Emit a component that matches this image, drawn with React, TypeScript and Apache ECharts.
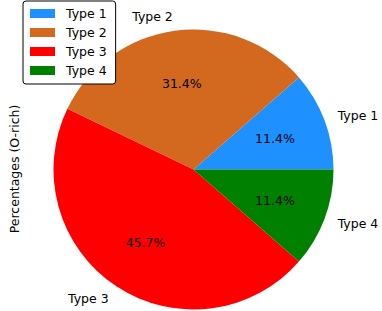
import React, { useEffect, useRef } from "react";
import * as echarts from "echarts";

const categories = ["Type 1", "Type 2", "Type 3", "Type 4"];
const values = [4, 11, 16, 4];
const colors = ["#1E90FF", "#D2691E", "#FF0000", "#008000"];
const yLabel = "Percentages (O-rich)";

const FONT = "DejaVu Sans";
const FS = 12.5;

export default function App() {
  const ref = useRef<HTMLDivElement>(null);
  useEffect(() => {
    if (!ref.current) return;
    const chart = echarts.init(ref.current, null, { renderer: "svg" });
    const total = values.reduce((a, b) => a + b, 0);
    const data = categories.map((name, i) => ({
      name,
      value: values[i],
      itemStyle: { color: colors[i] },
    }));
    const center = [193.5, 169.5];
    const R = 140;
    chart.setOption({
      animation: false,
      textStyle: { fontFamily: FONT },
      legend: {
        orient: "vertical",
        left: 23,
        top: 1,
        data: categories,
        itemWidth: 25,
        itemHeight: 9,
        itemGap: 6,
        padding: [6, 9, 7, 7],
        borderColor: "#000",
        borderWidth: 1,
        borderRadius: 3,
        backgroundColor: "#fff",
        icon: "rect",
        textStyle: { fontFamily: FONT, fontSize: FS, color: "#000", padding: [0, 0, 0, 6] },
      },
      graphic: [
        {
          type: "text",
          x: 14,
          y: 169,
          rotation: Math.PI / 2,
          style: {
            text: yLabel,
            fontFamily: FONT,
            fontSize: FS,
            fill: "#000",
            align: "center",
            verticalAlign: "middle",
          },
        },
      ],
      series: [
        {
          type: "pie",
          center,
          radius: [0, R],
          startAngle: 0,
          clockwise: false,
          silent: true,
          avoidLabelOverlap: false,
          data,
          label: {
            show: true,
            position: "outside",
            formatter: "{b}",
            fontFamily: FONT,
            fontSize: FS,
            color: "#000",
            distanceToLabelLine: 0,
          },
          labelLine: { show: false, length: 14, length2: 0 },
          emphasis: { disabled: true },
        },
        {
          type: "pie",
          center,
          radius: [R * 0.2, R],
          startAngle: 0,
          clockwise: false,
          silent: true,
          avoidLabelOverlap: false,
          data: categories.map((name, i) => ({
            name,
            value: values[i],
            itemStyle: { color: "rgba(0,0,0,0)" },
          })),
          label: {
            show: true,
            position: "inside",
            formatter: (p: any) => ((p.value / total) * 100).toFixed(1) + "%",
            fontFamily: FONT,
            fontSize: FS,
            color: "#000",
          },
          labelLine: { show: false },
          emphasis: { disabled: true },
        },
      ],
    });
    return () => chart.dispose();
  }, []);
  return (
    <div
      ref={ref}
      style={{ position: "absolute", left: 0, top: 0, width: 382, height: 311 }}
    />
  );
}
